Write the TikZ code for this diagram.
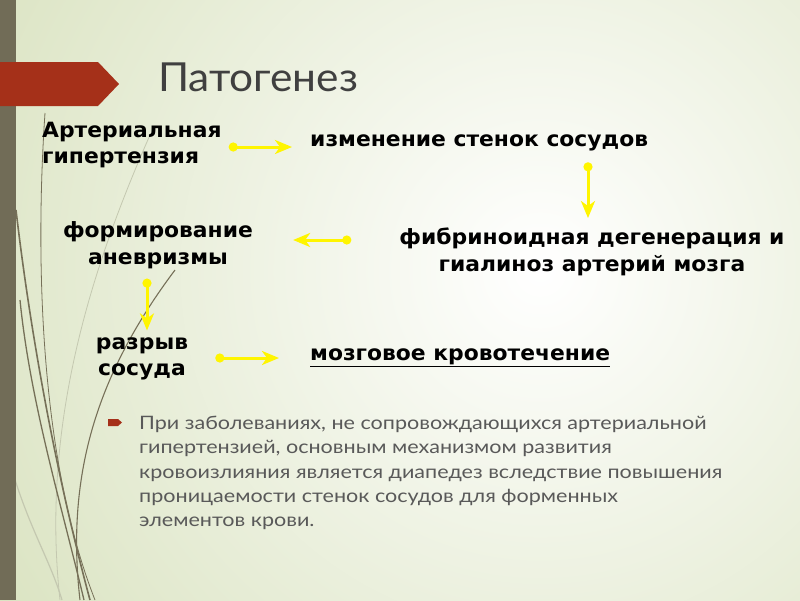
\documentclass[tikz,border=0pt]{standalone}
\usepackage{fontspec}
\setmainfont{DejaVu Sans}[FakeStretch=1.04]
\newfontfamily\lightf{Lato}[FakeStretch=1.165]
\newfontfamily\titlef{Lato}[FakeStretch=1.06]
\usetikzlibrary{arrows.meta,calc}
\definecolor{bgc}{RGB}{214,224,186}
\definecolor{stripe}{RGB}{113,108,87}
\definecolor{banner}{RGB}{165,48,25}
\definecolor{arrowy}{RGB}{255,245,0}
\definecolor{grass}{RGB}{118,112,88}
\definecolor{grasslight}{RGB}{196,200,176}
\definecolor{bodygray}{RGB}{89,89,89}
\tikzset{
  boldtxt/.style={inner sep=0pt, font=\bfseries\fontsize{21}{26.5}\selectfont, text=black},
  conn/.style={draw=arrowy, line width=3pt, {Circle[length=9pt]}-{Stealth[length=17pt,width=14pt,inset=5pt]}},
}
\begin{document}
\begin{tikzpicture}[x=1pt,y=-1pt]
\useasboundingbox (0,0) rectangle (800,600);
% background
\begin{scope}
\clip (0,0) rectangle (800,600);
\shade[inner color=white, outer color=bgc] (540,270) circle (720);
% grass curves
\draw[grasslight, line width=0.8pt] (150,135) .. controls (95,260) and (40,420) .. (60,600);
\draw[grasslight, line width=1.2pt] (12,470) .. controls (30,530) and (50,560) .. (62,600);
\draw[grass, line width=0.8pt] (45,113) .. controls (35,260) and (40,460) .. (95,600);
\draw[grass, line width=1.6pt] (16,210) .. controls (30,330) and (55,470) .. (90,600);
\draw[grass, line width=1.3pt] (20,300) .. controls (30,400) and (60,500) .. (84,600);
\draw[grass, line width=1.1pt] (175,270) .. controls (100,370) and (65,470) .. (80,600);
\end{scope}
% left stripe
\fill[stripe] (0,0) rectangle (16,600);
% banner
\fill[banner] (0,62) -- (98,62) -- (119,84) -- (98,106) -- (0,106) -- cycle;
% title
\node[anchor=base west, inner sep=0pt, font=\titlef\fontsize{40}{40}\selectfont, text={rgb,255:red,64;green,64;blue,64}] (title) at (158,91) {Патогенез};
% boxes
\node[boldtxt, anchor=west, align=left] (art) at (42,145) {Артериальная\\гипертензия};
\node[boldtxt, anchor=west] (izm) at (310,143) {изменение стенок сосудов};
\node[boldtxt, align=center] (fib) at (592,252) {фибриноидная дегенерация и\\гиалиноз артерий мозга};
\node[boldtxt, align=center] (form) at (158,245) {формирование\\аневризмы};
\node[boldtxt, align=center] (raz) at (142,359) {разрыв\\сосуда};
\node[boldtxt, anchor=west] (mozg) at (310,358) {\underline{мозговое кровотечение}};
% connectors
\draw[conn, shorten <=7pt, shorten >=18pt] (art.east |- 0,147) -- (izm.west |- 0,147);
\draw[conn, shorten <=11pt, shorten >=10pt] (izm.south -| 588,0) -- (fib.north -| 588,0);
\draw[conn, shorten <=48pt, shorten >=40pt] (fib.west |- 0,240) -- (form.east |- 0,240);
\draw[conn, shorten <=10pt, shorten >=7pt] (form.south -| 147,0) -- (raz.north -| 147,0);
\draw[conn, shorten <=27pt, shorten >=31pt] (raz.east |- 0,358) -- (mozg.west |- 0,358);
% bullet
\fill[banner] (108,419) -- (118,419) -- (122,422.5) -- (118,426) -- (108,426) -- cycle;
\node[anchor=north west, inner sep=0pt, align=left, font=\lightf\fontsize{18.5}{24.3}\selectfont, text=bodygray] (body) at (139,416)
{При заболеваниях, не сопровождающихся артериальной\\
гипертензией, основным механизмом развития\\
кровоизлияния является диапедез вследствие повышения\\
проницаемости стенок сосудов для форменных\\
элементов крови.};
\end{tikzpicture}
\end{document}
